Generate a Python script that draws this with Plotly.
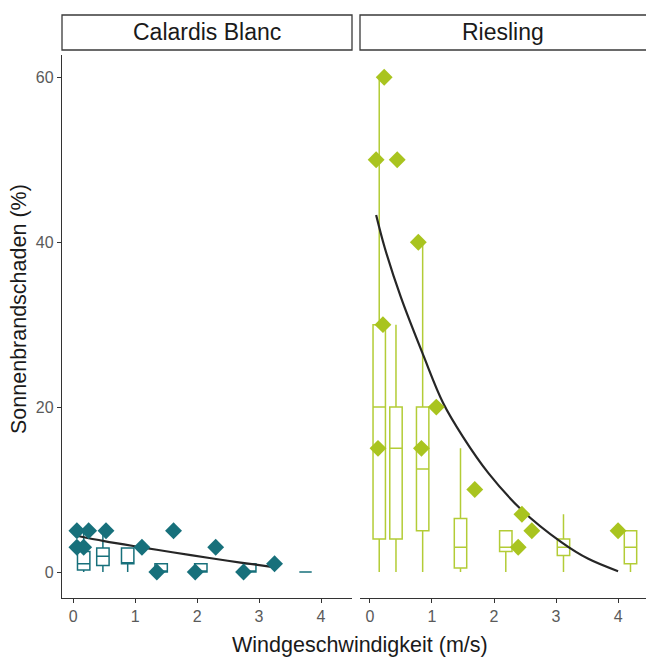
import plotly.graph_objects as go

# ---------------- data ----------------
panels = ["Calardis Blanc", "Riesling"]
x_ticks = [0, 1, 2, 3, 4]
y_ticks = [0, 20, 40, 60]

# Calardis Blanc boxes (wind speed class centre, five-number summary)
cb_box_x = [0.17, 0.48, 0.88, 1.42, 2.06, 2.85, 3.75]
cb_min = [0, 0, 0, 0, 0, 0, 0]
cb_q1 = [0.25, 0.8, 1.0, 0, 0, 0, 0]
cb_med = [1.0, 1.9, 1.1, 0, 0, 0, 0]
cb_q3 = [2.5, 2.9, 2.9, 1, 1, 1, 0]
cb_max = [5, 5, 3, 1, 1, 1, 0]

# Calardis Blanc raw points
cb_pt_x = [0.06, 0.25, 0.53, 1.62, 0.06, 0.17, 1.11, 2.30, 1.35, 1.97, 2.75, 3.25]
cb_pt_y = [5, 5, 5, 5, 3, 3, 3, 3, 0, 0, 0, 1]

# Calardis Blanc fitted curve
cb_fit_x = [0.06, 0.5, 1.1, 1.6, 2.2, 2.7, 3.23]
cb_fit_y = [4.4, 3.75, 3.0, 2.4, 1.7, 1.15, 0.6]

# Riesling boxes
rs_box_x = [0.15, 0.42, 0.85, 1.46, 2.19, 3.12, 4.2]
rs_min = [0, 0, 0, 0, 0, 0, 0]
rs_q1 = [4, 4, 5, 0.5, 2.5, 2, 1]
rs_med = [20, 15, 12.5, 3, 3, 3, 3]
rs_q3 = [30, 20, 20, 6.5, 5, 4, 5]
rs_max = [60, 30, 40, 15, 5, 7, 5]

# Riesling raw points
rs_pt_x = [0.23, 0.10, 0.44, 0.78, 0.21, 1.07, 0.13, 0.83, 1.69, 2.45, 2.61, 2.39, 4.0]
rs_pt_y = [60, 50, 50, 40, 30, 20, 15, 15, 10, 7, 5, 3, 5]

# Riesling fitted curve
rs_fit_x = [0.1, 0.24, 0.5, 0.86, 1.18, 1.5, 1.91, 2.45, 3.09, 3.52, 4.0]
rs_fit_y = [43.3, 39.3, 33.3, 26.3, 20.5, 16.4, 12.0, 7.5, 3.6, 1.6, 0.1]

# ---------------- style ----------------
TEAL = "#17707b"
GREEN = "#a9c41f"
GREEN_BOX = "#b3cc36"
FIT = "#262626"
FONT = "Liberation Sans, Arial, sans-serif"

fig = go.Figure()

def add_panel(xa, ya, bx, mn, q1, md, q3, mx, px, py, fx, fy, col, boxcol):
    fig.add_trace(go.Box(
        x=bx, q1=q1, median=md, q3=q3, lowerfence=mn, upperfence=mx,
        width=0.2, boxpoints=False, whiskerwidth=0,
        line=dict(color=boxcol, width=1.5), fillcolor="rgba(0,0,0,0)",
        xaxis=xa, yaxis=ya, showlegend=False, hoverinfo="skip"))
    fig.add_trace(go.Scatter(
        x=fx, y=fy, mode="lines", line=dict(color=FIT, width=2.2, shape="spline"),
        xaxis=xa, yaxis=ya, showlegend=False))
    fig.add_trace(go.Scatter(
        x=px, y=py, mode="markers",
        marker=dict(symbol="diamond", size=13, color=col, line=dict(width=0)),
        xaxis=xa, yaxis=ya, showlegend=False))

add_panel("x", "y", cb_box_x, cb_min, cb_q1, cb_med, cb_q3, cb_max,
          cb_pt_x, cb_pt_y, cb_fit_x, cb_fit_y, TEAL, TEAL)
add_panel("x2", "y2", rs_box_x, rs_min, rs_q1, rs_med, rs_q3, rs_max,
          rs_pt_x, rs_pt_y, rs_fit_x, rs_fit_y, GREEN, GREEN_BOX)

W, H = 646, 657
ML, MR, MT, MB = 62, 0, 55, 59
PW = W - ML - MR
PH = H - MT - MB
d1 = [0, (352 - 62) / PW]
d2 = [(360 - 62) / PW, 1]

xcommon = dict(showline=True, linecolor="#333333", linewidth=1.3, ticks="outside",
               ticklen=4, tickcolor="#333333", tickwidth=1.1,
               tickvals=x_ticks, showgrid=False, zeroline=False,
               tickfont=dict(family=FONT, size=16, color="#5a5a5a"))
ycommon = dict(range=[-3.15, 62.7], showgrid=False, zeroline=False)

fig.update_layout(
    width=W, height=H,
    margin=dict(l=ML, r=MR, t=MT, b=MB),
    paper_bgcolor="white", plot_bgcolor="white",
    boxmode="overlay",
    xaxis=dict(domain=d1, range=[-0.18, 4.5], anchor="y", **xcommon),
    xaxis2=dict(domain=d2, range=[-0.16, 4.45], anchor="y2", **xcommon),
    yaxis=dict(anchor="x", showline=True, linecolor="#333333", linewidth=1.3,
               ticks="outside", ticklen=4, tickcolor="#333333", tickwidth=1.1,
               tickvals=y_ticks, tickfont=dict(family=FONT, size=16, color="#5a5a5a"),
               **ycommon),
    yaxis2=dict(anchor="x2", matches="y", showticklabels=False, showline=False,
                ticks="", **ycommon),
    font=dict(family=FONT),
)

# facet strips
strip_y0 = 1 + (55 - 50) / PH
strip_y1 = 1 + (55 - 15) / PH
for dom, name, x1 in [(d1, panels[0], d1[1]), (d2, panels[1], 1.02)]:
    fig.add_shape(type="rect", xref="paper", yref="paper",
                  x0=dom[0], x1=x1, y0=strip_y0, y1=strip_y1,
                  line=dict(color="#3a3a3a", width=1.3), fillcolor="white")
    fig.add_annotation(xref="paper", yref="paper", x=(dom[0] + dom[1]) / 2,
                       y=(strip_y0 + strip_y1) / 2, text=name, showarrow=False,
                       font=dict(family=FONT, size=23, color="#1a1a1a"),
                       xanchor="center", yanchor="middle")

# axis titles
fig.add_annotation(xref="paper", yref="paper", x=(360 - ML) / PW, y=-(645 - 598) / PH,
                   text="Windgeschwindigkeit (m/s)", showarrow=False,
                   font=dict(family=FONT, size=21.5, color="#1a1a1a"),
                   xanchor="center", yanchor="middle")
fig.add_annotation(xref="paper", yref="paper", x=(19 - ML) / PW, y=(598 - 309) / PH,
                   text="Sonnenbrandschaden (%)", showarrow=False, textangle=-90,
                   font=dict(family=FONT, size=21.5, color="#1a1a1a"),
                   xanchor="center", yanchor="middle")

fig.write_html("out.html", config={"displayModeBar": False},
               post_script="document.body.style.margin='0px';document.body.style.overflow='hidden';")
